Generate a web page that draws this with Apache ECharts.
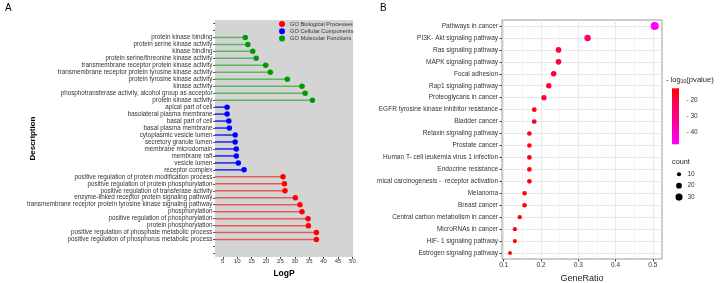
<!DOCTYPE html>
<html lang="en">
<head>
<meta charset="UTF-8">
<title>GO / KEGG enrichment</title>
<script src="https://cdn.jsdelivr.net/npm/echarts@6/dist/echarts.min.js"></script>
<style>
  html, body { margin: 0; padding: 0; background: #fff; }
  #chart { width: 725px; height: 283px; }
</style>
</head>
<body>
<div id="chart"></div>
<script>
// ---- panel A: GO terms, listed top to bottom ----
const mfTerms = [
  'protein kinase binding', 'protein serine kinase activity', 'kinase binding',
  'protein serine/threonine kinase activity', 'transmembrane receptor protein kinase activity',
  'transmembrane receptor protein tyrosine kinase activity', 'protein tyrosine kinase activity',
  'kinase activity', 'phosphotransferase activity, alcohol group as acceptor', 'protein kinase activity'
];
const mfLogP = [12.8, 13.7, 15.4, 16.6, 19.9, 21.5, 27.4, 32.5, 33.6, 36.1];

const ccTerms = [
  'apical part of cell', 'basolateral plasma membrane', 'basal part of cell', 'basal plasma membrane',
  'cytoplasmic vesicle lumen', 'secretory granule lumen', 'membrane microdomain', 'membrane raft',
  'vesicle lumen', 'receptor complex'
];
const ccLogP = [6.5, 6.5, 7.1, 7.3, 9.3, 9.3, 9.7, 9.7, 10.4, 12.4];

const bpTerms = [
  'positive regulation of protein modification process', 'positive regulation of protein phosphorylation',
  'positive regulation of transferase activity', 'enzyme-linked receptor protein signaling pathway',
  'transmembrane receptor protein tyrosine kinase signaling pathway', 'phosphorylation',
  'positive regulation of phosphorylation', 'protein phosphorylation',
  'positive regulation of phosphate metabolic process', 'positive regulation of phosphorus metabolic process'
];
const bpLogP = [25.9, 26.4, 26.6, 30.2, 31.8, 32.5, 34.6, 34.7, 37.5, 37.5];

const logPTicks = [5, 10, 15, 20, 25, 30, 35, 40, 45, 50];

// ---- panel B: KEGG pathways, listed top to bottom ----
const keggTerms = [
  'Pathways in cancer', 'PI3K- Akt signaling pathway', 'Ras signaling pathway', 'MAPK signaling pathway',
  'Focal adhesion', 'Rap1 signaling pathway', 'Proteoglycans in cancer',
  'EGFR tyrosine kinase inhibitor resistance', 'Bladder cancer', 'Relaxin signaling pathway',
  'Prostate cancer', 'Human T- cell leukemia virus 1 infection', 'Endocrine resistance',
  'mical carcinogenesis -  receptor activation', 'Melanoma', 'Breast cancer',
  'Central carbon metabolism in cancer', 'MicroRNAs in cancer', 'HIF- 1 signaling pathway',
  'Estrogen signaling pathway'
];
const geneRatio = [0.505, 0.325, 0.247, 0.247, 0.234, 0.221, 0.208, 0.182, 0.182, 0.169,
                   0.169, 0.169, 0.169, 0.169, 0.156, 0.156, 0.143, 0.130, 0.130, 0.117];
const geneCount = [39, 25, 19, 19, 18, 17, 16, 14, 14, 13, 13, 13, 13, 13, 12, 12, 11, 10, 10, 9];
const log10p = [-47.5, -26, -19.5, -19, -18.5, -18, -18, -16, -16.5, -15,
                -15, -15.5, -15, -14.5, -14, -14, -13.5, -13, -13, -12.8];

const ratioTicks = [0.1, 0.2, 0.3, 0.4, 0.5];
const ratioMinor = [0.15, 0.25, 0.35, 0.45];
const pvalTicks = [-20, -30, -40];
const countTicks = [10, 20, 30];

const FONT = '"Liberation Sans", Arial, sans-serif';
const pColors = ['#FF00FF', '#FF00BE', '#FF0080', '#FF0055', '#FF0000']; // low -> high
const pMin = -47.5, pMax = -12.8;
const dotSize = c => 1.3 * Math.sqrt(c);

// categories for A, two empty slots above and below like the original
const goCats = [' ', '  '].concat(mfTerms, ccTerms, bpTerms, ['   ', '    ']);
const mfStart = 2, ccStart = 12, bpStart = 22;

function stemData(start, vals) {
  const d = goCats.map(() => '-');
  vals.forEach((v, i) => { d[start + i] = v; });
  return d;
}
function dotData(start, vals) {
  return vals.map((v, i) => [v, start + i]);
}

const chart = echarts.init(document.getElementById('chart'), null, { renderer: 'canvas' });

// legend graphics for B (colour bar + count)
const cbX = 672, cbY = 88.3, cbW = 7, cbH = 56;
const pToY = v => cbY + (pMax - v) / (pMax - pMin) * cbH;
const graphics = [
  { type: 'text', left: 5, top: 3, style: { text: 'A', font: '10px ' + FONT, fill: '#000' } },
  { type: 'text', left: 380, top: 3, style: { text: 'B', font: '10px ' + FONT, fill: '#000' } },
  { type: 'text', x: 33, y: 138.5, rotation: Math.PI / 2, style: {
      text: 'Description', font: 'bold 8px ' + FONT, fill: '#000', align: 'center', verticalAlign: 'middle' } },
  { type: 'text', x: 666, y: 80, style: {
      text: '{n|- log}{s|10}{n|(pvalue)}', verticalAlign: 'middle',
      rich: { n: { fontSize: 7.6, fontFamily: FONT, fill: '#222' }, s: { fontSize: 5, fontFamily: FONT, fill: '#222', padding: [4, 0, 0, 0] } }
  } },
  { type: 'rect', shape: { x: cbX, y: cbY, width: cbW, height: cbH }, style: {
      fill: new echarts.graphic.LinearGradient(0, 0, 0, 1, [
        { offset: 0, color: '#FF0000' }, { offset: 0.25, color: '#FF0055' }, { offset: 0.5, color: '#FF0080' },
        { offset: 0.75, color: '#FF00BE' }, { offset: 1, color: '#FF00FF' }])
  } },
  { type: 'text', x: 672, y: 162, style: { text: 'count', font: '7.3px ' + FONT, fill: '#222', verticalAlign: 'middle' } }
];
pvalTicks.forEach(v => {
  graphics.push({ type: 'text', x: 686.5, y: pToY(v), style: {
    text: '- ' + Math.abs(v), font: '6.5px ' + FONT, fill: '#333', verticalAlign: 'middle' } });
});
countTicks.forEach((c, i) => {
  const y = 174.3 + i * 11.4;
  graphics.push({ type: 'circle', shape: { cx: 679, cy: y, r: dotSize(c) / 2 }, style: { fill: '#000' } });
  graphics.push({ type: 'text', x: 687.5, y: y, style: {
    text: String(c), font: '6.5px ' + FONT, fill: '#333', verticalAlign: 'middle' } });
});

const gridLineB = [];
ratioTicks.forEach(v => gridLineB.push({ xAxis: v, lineStyle: { color: '#e6e6e6', width: 0.9 } }));
ratioMinor.forEach(v => gridLineB.push({ xAxis: v, lineStyle: { color: '#f0f0f0', width: 0.6 } }));
keggTerms.forEach(t => gridLineB.push({ yAxis: t, lineStyle: { color: '#e6e6e6', width: 0.9 } }));

const stemStyle = (color) => ({
  type: 'bar', xAxisIndex: 0, yAxisIndex: 0, stack: 'stem', barWidth: 1.5,
  silent: true, itemStyle: { color: color }, z: 2
});

chart.setOption({
  animation: false,
  textStyle: { fontFamily: FONT },
  grid: [
    { left: 215, top: 20, width: 138, height: 237, show: true, backgroundColor: '#d4d4d4', borderWidth: 0, outerBoundsMode: 'none' },
    { left: 502, top: 20, width: 160, height: 239, show: true, backgroundColor: '#fff', borderColor: '#7f7f7f', borderWidth: 0.8, outerBoundsMode: 'none' }
  ],
  legend: {
    data: ['GO Biological Processes', 'GO Cellular Components', 'GO Molecular Functions'],
    orient: 'vertical', left: 279, top: 21, padding: 0, itemGap: 1.2,
    itemWidth: 6, itemHeight: 6, icon: 'circle',
    textStyle: { fontSize: 5.7, color: '#333', fontFamily: FONT }
  },
  visualMap: {
    show: false, type: 'continuous', seriesIndex: 6, dimension: 2,
    min: pMin, max: pMax, inRange: { color: pColors }
  },
  xAxis: [
    {
      gridIndex: 0, type: 'value', min: 2.3, max: 50.2,
      splitLine: { show: false }, axisLine: { show: false },
      axisTick: { show: true, length: 2, customValues: logPTicks, lineStyle: { color: '#444' } },
      axisLabel: { customValues: logPTicks, fontSize: 6, color: '#333', margin: 1.5 },
      name: 'LogP', nameLocation: 'middle', nameGap: 11,
      nameTextStyle: { fontSize: 8.5, fontWeight: 'bold', color: '#000' }
    },
    {
      gridIndex: 1, type: 'value', min: 0.0955, max: 0.5245,
      splitLine: { show: false }, axisLine: { show: false },
      axisTick: { show: true, length: 2.5, customValues: ratioTicks, lineStyle: { color: '#444' } },
      axisLabel: { customValues: ratioTicks, fontSize: 6.5, color: '#333', margin: 3, formatter: v => v.toFixed(1) },
      name: 'GeneRatio', nameLocation: 'middle', nameGap: 7,
      nameTextStyle: { fontSize: 9, color: '#222' }
    }
  ],
  yAxis: [
    {
      gridIndex: 0, type: 'category', data: goCats, inverse: true,
      axisLine: { show: false },
      axisTick: { show: true, alignWithLabel: true, interval: 0, length: 1.8, lineStyle: { color: '#444' } },
      axisLabel: { fontSize: 6.3, color: '#333', margin: 2.5, interval: 0 }
    },
    {
      gridIndex: 1, type: 'category', data: keggTerms, inverse: true,
      axisLine: { show: false },
      axisTick: { show: true, alignWithLabel: true, interval: 0, length: 2.5, lineStyle: { color: '#444' } },
      axisLabel: { fontSize: 6.5, color: '#333', margin: 4, interval: 0 }
    }
  ],
  series: [
    Object.assign(stemStyle('#e65a5a'), { data: stemData(bpStart, bpLogP) }),
    Object.assign(stemStyle('#2020f0'), { data: stemData(ccStart, ccLogP) }),
    Object.assign(stemStyle('#5cb85c'), { data: stemData(mfStart, mfLogP) }),
    { name: 'GO Biological Processes', type: 'scatter', xAxisIndex: 0, yAxisIndex: 0, symbolSize: 5.5,
      itemStyle: { color: '#ff0000', opacity: 1 }, data: dotData(bpStart, bpLogP), z: 3 },
    { name: 'GO Cellular Components', type: 'scatter', xAxisIndex: 0, yAxisIndex: 0, symbolSize: 5.5,
      itemStyle: { color: '#0000ff', opacity: 1 }, data: dotData(ccStart, ccLogP), z: 3 },
    { name: 'GO Molecular Functions', type: 'scatter', xAxisIndex: 0, yAxisIndex: 0, symbolSize: 5.5,
      itemStyle: { color: '#009a00', opacity: 1 }, data: dotData(mfStart, mfLogP), z: 3 },
    { name: 'KEGG', type: 'scatter', xAxisIndex: 1, yAxisIndex: 1, z: 10,
      symbolSize: v => dotSize(v[3]),
      itemStyle: { opacity: 1 },
      data: keggTerms.map((t, i) => [geneRatio[i], t, log10p[i], geneCount[i]]) },
    { name: 'gridB', type: 'scatter', xAxisIndex: 1, yAxisIndex: 1, data: [], z: 1, silent: true,
      markLine: { z: 1, silent: true, symbol: ['none', 'none'], label: { show: false }, animation: false,
        lineStyle: { type: 'solid' }, data: gridLineB } }
  ],
  graphic: graphics
});

window.onresize = () => chart.resize();
</script>
</body>
</html>
